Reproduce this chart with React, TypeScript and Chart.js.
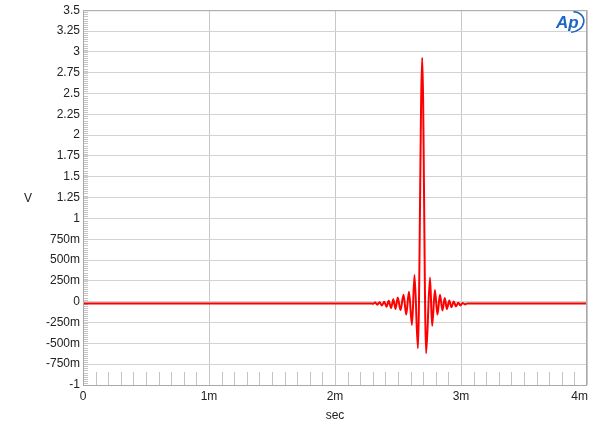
import React, { useEffect, useRef } from 'react';
import { Chart, registerables } from 'chart.js';

Chart.register(...registerables);

// time in ms, voltage in V
const timeMs = [
  0, 1.0, 2.0, 2.282, 2.300, 2.318, 2.336, 2.354, 2.372, 2.391, 2.409, 2.426, 2.445,
  2.463, 2.480, 2.498, 2.520, 2.544, 2.565, 2.587, 2.611, 2.631, 2.658, 2.692,
  2.723, 2.754, 2.771, 2.793, 2.813, 2.833, 2.853, 2.871, 2.888, 2.907, 2.924,
  2.942, 2.960, 2.978, 2.995, 3.013, 3.031, 3.051, 3.5, 4.0,
];
const volts = [
  -0.02, -0.02, -0.02, -0.02, -0.025, -0.01, -0.035, -0.005, -0.045, 0.0, -0.06, 0.012, -0.075,
  0.03, -0.087, 0.05, -0.10, 0.085, -0.155, 0.12, -0.28, 0.32, -0.56, 2.93,
  -0.62, 0.29, -0.29, 0.14, -0.155, 0.084, -0.105, 0.044, -0.087, 0.015, -0.068,
  0.004, -0.056, -0.012, -0.044, -0.014, -0.032, -0.02, -0.02, -0.02,
];

const yTicks = [-1, -0.75, -0.5, -0.25, 0, 0.25, 0.5, 0.75, 1, 1.25, 1.5, 1.75, 2, 2.25, 2.5, 2.75, 3, 3.25, 3.5];
const yTickLabels = ['-1', '-750m', '-500m', '-250m', '0', '250m', '500m', '750m', '1', '1.25', '1.5', '1.75', '2', '2.25', '2.5', '2.75', '3', '3.25', '3.5'];
const xTicks = [0, 1, 2, 3, 4];
const xTickLabels = ['0', '1m', '2m', '3m', '4m'];
const xTitle = 'sec';
const yTitle = 'V';
const logoText = 'Ap';

const FONT = 'Arial, "Liberation Sans", sans-serif';

const deco = {
  id: 'deco',
  beforeDatasetsDraw(chart: any) {
    const { ctx, chartArea, scales } = chart;
    const { left, right, bottom } = chartArea;
    const x = scales.x;
    const y = scales.y;
    ctx.save();
    ctx.strokeStyle = '#c4c4c4';
    ctx.lineWidth = 1;
    ctx.beginPath();
    for (let i = 0; i <= 180; i++) {
      const py = Math.round(y.getPixelForValue(-1 + i * 0.025)) + 0.5;
      ctx.moveTo(left, py);
      ctx.lineTo(left + 5, py);
    }
    for (let i = 1; i < 40; i++) {
      if (i % 10 === 0) continue;
      const px = Math.round(x.getPixelForValue(i * 0.1)) + 0.5;
      ctx.moveTo(px, bottom);
      ctx.lineTo(px, bottom - 13);
    }
    ctx.stroke();
    // faint zero trace
    ctx.strokeStyle = '#bfeeee';
    ctx.beginPath();
    const z = Math.round(y.getPixelForValue(0)) + 0.5;
    ctx.moveTo(left, z);
    ctx.lineTo(right, z);
    ctx.stroke();
    ctx.restore();
  },
  afterDraw(chart: any) {
    const { ctx, chartArea, scales } = chart;
    const { left, right, top, bottom } = chartArea;
    const x = scales.x;
    ctx.save();
    // border
    ctx.strokeStyle = '#a8a8a8';
    ctx.lineWidth = 1;
    ctx.strokeRect(left + 0.5, top + 0.5, right - left - 1, bottom - top);
    // x labels
    ctx.fillStyle = '#222';
    ctx.font = `12px ${FONT}`;
    ctx.textBaseline = 'top';
    xTicks.forEach((v, i) => {
      const px = x.getPixelForValue(v);
      const last = i === xTicks.length - 1;
      ctx.textAlign = last ? 'right' : 'center';
      ctx.fillText(xTickLabels[i], last ? right + 1 : px, bottom + 6);
    });
    // titles
    ctx.textAlign = 'center';
    ctx.textBaseline = 'middle';
    ctx.fillText(xTitle, (left + right) / 2, bottom + 31);
    ctx.fillText(yTitle, 28, (top + bottom) / 2 + 1);
    // logo
    ctx.fillStyle = '#1f66c1';
    ctx.font = `italic bold 17px ${FONT}`;
    ctx.textAlign = 'left';
    ctx.textBaseline = 'alphabetic';
    ctx.fillText(logoText, 556, 28);
    ctx.strokeStyle = '#1f66c1';
    ctx.lineWidth = 1.6;
    ctx.beginPath();
    ctx.ellipse(572, 22, 12, 10, -0.3, -1.2, 1.9);
    ctx.stroke();
    ctx.restore();
  },
};

export default function App() {
  const ref = useRef<HTMLCanvasElement | null>(null);
  useEffect(() => {
    if (!ref.current) return;
    const chart = new Chart(ref.current, {
      type: 'line',
      data: {
        datasets: [
          {
            data: timeMs.map((t, i) => ({ x: t, y: volts[i] })),
            borderColor: '#ff0000',
            borderWidth: 2,
            pointRadius: 0,
            cubicInterpolationMode: 'monotone',
            fill: false,
          },
        ],
      },
      options: {
        animation: false,
        responsive: true,
        maintainAspectRatio: false,
        layout: { padding: { left: 0, right: 13, top: 9, bottom: 0 } },
        plugins: { legend: { display: false }, tooltip: { enabled: false } },
        scales: {
          x: {
            type: 'linear',
            min: 0,
            max: 4,
            afterBuildTicks: (s: any) => { s.ticks = xTicks.map((v) => ({ value: v })); },
            afterFit: (s: any) => { s.height = 47; },
            ticks: { display: false },
            grid: { color: '#c8c8c8', drawTicks: false },
            border: { display: false },
          },
          y: {
            type: 'linear',
            min: -1,
            max: 3.5,
            afterBuildTicks: (s: any) => { s.ticks = yTicks.map((v) => ({ value: v })); },
            afterFit: (s: any) => { s.width = 83; },
            ticks: {
              padding: 3,
              color: '#222',
              font: { family: FONT, size: 12 },
              callback: (v: any) => {
                const i = yTicks.findIndex((t) => Math.abs(t - Number(v)) < 1e-9);
                return i >= 0 ? yTickLabels[i] : '';
              },
            },
            grid: { color: '#d2d2d2', drawTicks: false },
            border: { display: false },
          },
        },
      },
      plugins: [deco],
    });
    return () => chart.destroy();
  }, []);
  return (
    <div style={{ position: 'fixed', left: 0, top: 0, width: 600, height: 432, background: '#fff' }}>
      <canvas ref={ref} />
    </div>
  );
}
